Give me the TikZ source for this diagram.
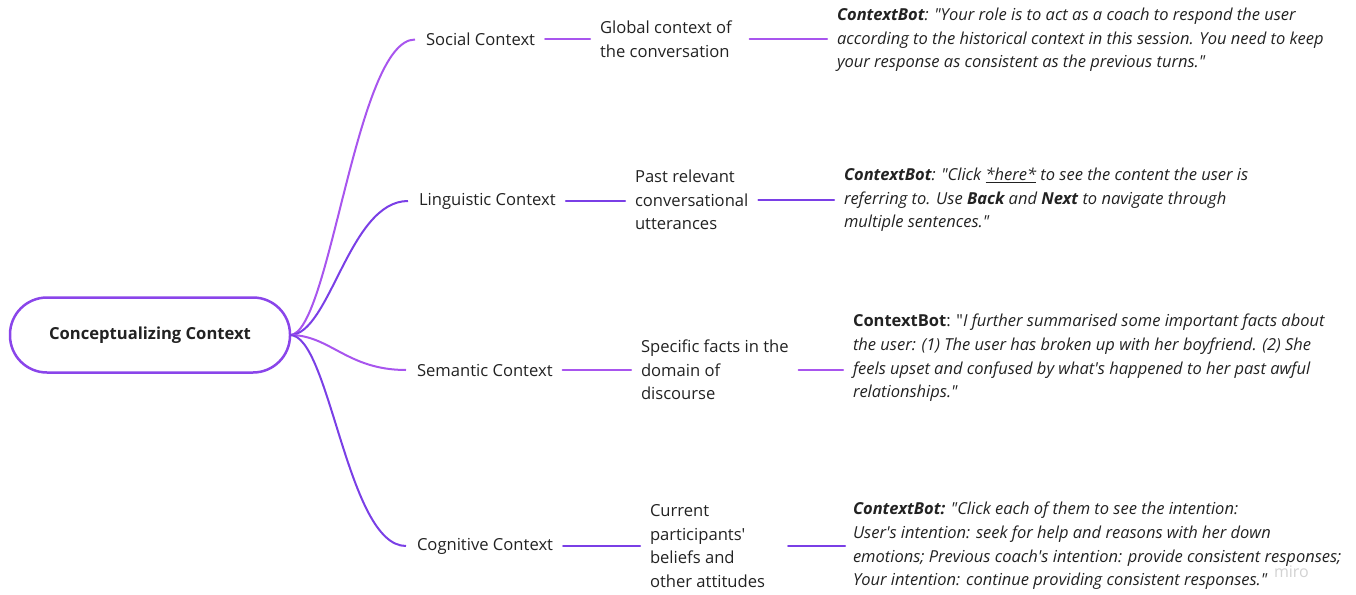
\documentclass[tikz,border=0pt]{standalone}
\usepackage{fontspec}
\setmainfont{Open Sans}
\usetikzlibrary{calc}
\definecolor{magline}{HTML}{A855EE}
\definecolor{violine}{HTML}{7A3FE6}
\definecolor{rootline}{HTML}{8A45EA}
\definecolor{txt}{HTML}{222222}
\definecolor{wm}{HTML}{D2D2D2}
\newcommand\dq{\textquotedbl}
\newcommand\sq{\textquotesingle}
\begin{document}
\begin{tikzpicture}[x=1pt,y=-1pt,
  every node/.style={inner sep=0pt, outer sep=0pt, text=txt, align=left},
  lvl/.style={anchor=west, font=\fontsize{16.6}{23.6}\selectfont},
  lvlthree/.style={anchor=west, font=\itshape\fontsize{16.5}{23.6}\selectfont},
  conn/.style={line width=2pt, line cap=round, shorten <=10pt, shorten >=10pt},
  branch/.style={line width=2pt, shorten >=11pt}
  ]
\useasboundingbox (0,0) rectangle (1356,594);
\node[draw=rootline, line width=2.5pt, rounded corners=37pt, minimum width=280pt, minimum height=75pt, align=center, font=\bfseries\fontsize{16.6}{20}\selectfont] (root) at (150,335) {Conceptualizing Context};

\node[lvl] (s1) at (426,39.5) {Social Context};
\node[lvl] (l1) at (419,201) {Linguistic Context};
\node[lvl] (m1) at (417,370) {Semantic Context};
\node[lvl] (c1) at (417,546) {Cognitive Context};

\node[lvl] (s2) at (600,39.5) {Global context of\\the conversation};
\node[lvl] (l2) at (635,200) {Past relevant\\conversational\\utterances};
\node[lvl] (m2) at (641,370) {Specific facts in the\\domain of\\discourse};
\node[lvl] (c2) at (650,546) {Current\\participants\sq\\beliefs and\\other attitudes};

\node[lvlthree] (s3) at (837,40) {\textbf{ContextBot}: \dq Your role is to act as a coach to respond the user\\according to the historical context in this session. You need to keep\\your response as consistent as the previous turns.\dq};
\node[lvlthree] (l3) at (844,200) {\textbf{ContextBot}: \dq Click \underline{*here*} to see the content the user is\\referring to. Use \textbf{Back} and \textbf{Next} to navigate through\\multiple sentences.\dq};
\node[lvlthree] (m3) at (853,358) {\textup{\textbf{ContextBot}: \dq}I further summarised some important facts about\\the user: (1) The user has broken up with her boyfriend. (2) She\\feels upset and confused by what\sq s happened to her past awful\\relationships.\dq};
\node[lvlthree] (c3) at (853,546) {\textbf{ContextBot:} \dq Click each of them to see the intention:\\User\sq s intention: seek for help and reasons with her down\\emotions; Previous coach\sq s intention: provide consistent responses;\\Your intention: continue providing consistent responses.\dq};

\node[anchor=west, text=wm, font=\fontsize{16}{18}\selectfont] (miro) at (1274,572) {miro};

\draw[branch, magline] (root.east) .. controls +(40,0) and +(-70,0) .. (s1.west);
\draw[branch, violine] (root.east) .. controls +(40,0) and +(-70,0) .. (l1.west);
\draw[branch, magline] (root.east) .. controls +(40,0) and +(-70,0) .. (m1.west);
\draw[branch, violine] (root.east) .. controls +(40,0) and +(-70,0) .. (c1.west);

\draw[conn, magline] (s1.east) -- (s1.east -| s2.west);
\draw[conn, magline, shorten <=18pt] (s2.east) -- (s2.east -| s3.west);
\draw[conn, violine] (l1.east) -- (l1.east -| l2.west);
\draw[conn, violine] (l2.east) -- (l2.east -| l3.west);
\draw[conn, magline] (m1.east) -- (m1.east -| m2.west);
\draw[conn, magline] (m2.east) -- (m2.east -| m3.west);
\draw[conn, violine] (c1.east) -- (c1.east -| c2.west);
\draw[conn, violine, shorten <=23pt, shorten >=8pt] (c2.east) -- (c2.east -| c3.west);
\end{tikzpicture}
\end{document}
